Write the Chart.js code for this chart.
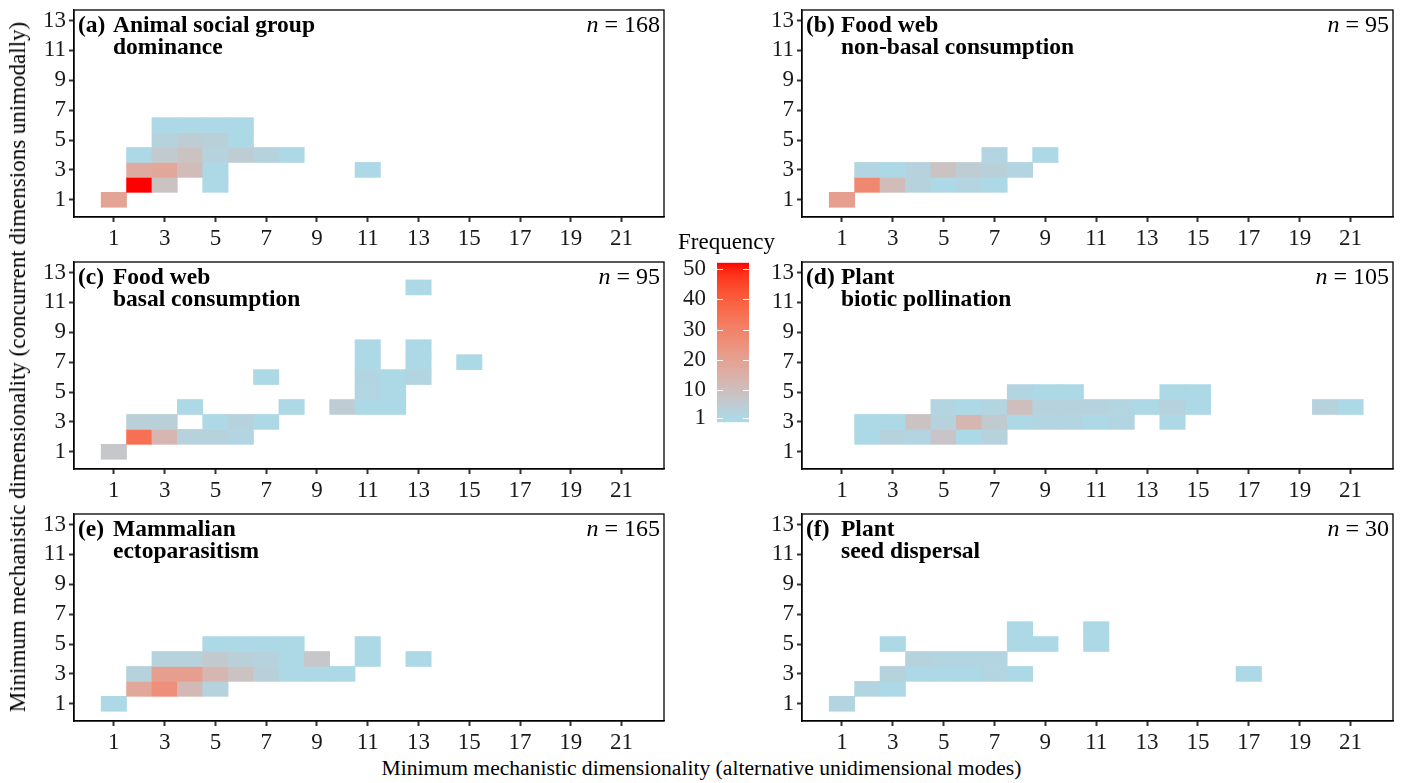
<!DOCTYPE html>
<html>
<head>
<meta charset="utf-8">
<title>Minimum mechanistic dimensionality</title>
<script src="https://cdn.jsdelivr.net/npm/chart.js@4.4.1/dist/chart.umd.min.js"></script>
<style>
  body { margin: 0; background: #fff; }
  #wrap { position: relative; width: 1403px; height: 783px; overflow: hidden; background: #fff;
          font-family: "Liberation Serif", "Times New Roman", serif; color: #000; }
  #wrap canvas { position: absolute; }
  .axis-title { position: absolute; font-size: 22px; line-height: 22px; white-space: nowrap; }
  #xtitle { left: 0; width: 1403px; text-align: center; top: 757px; font-size: 21.6px; }
  #ytitle { left: 18px; top: 367px; font-size: 23px; transform: translate(-50%, -50%) rotate(-90deg); }
  #legtitle { left: 678px; top: 231px; font-size: 23px; }
</style>
</head>
<body>
<div id="wrap">
  <canvas id="panel-a" width="680" height="250" style="left:0;top:0"></canvas>
  <canvas id="panel-b" width="680" height="250" style="left:728px;top:0"></canvas>
  <canvas id="panel-c" width="680" height="250" style="left:0;top:252px"></canvas>
  <canvas id="panel-d" width="680" height="250" style="left:728px;top:252px"></canvas>
  <canvas id="panel-e" width="680" height="250" style="left:0;top:504px"></canvas>
  <canvas id="panel-f" width="680" height="250" style="left:728px;top:504px"></canvas>
  <canvas id="legend" width="130" height="190" style="left:640px;top:250px"></canvas>
  <div class="axis-title" id="legtitle">Frequency</div>
  <div class="axis-title" id="xtitle">Minimum mechanistic dimensionality (alternative unidimensional modes)</div>
  <div class="axis-title" id="ytitle">Minimum mechanistic dimensionality (concurrent dimensions unimodally)</div>
</div>
<script>
// axis breaks
const xTicks = [1, 3, 5, 7, 9, 11, 13, 15, 17, 19, 21];
const yTicks = [1, 3, 5, 7, 9, 11, 13];
const legendTicks = [1, 10, 20, 30, 40, 50];

// panel headings
const panelLetters = ["(a)", "(b)", "(c)", "(d)", "(e)", "(f)"];
const panelGroups = ["Animal social group", "Food web", "Food web", "Plant", "Mammalian", "Plant"];
const panelSystems = ["dominance", "non-basal consumption", "basal consumption", "biotic pollination", "ectoparasitism", "seed dispersal"];
const panelN = [168, 95, 95, 105, 165, 30];

// cells: [alternative modes (x), concurrent dimensions (y), frequency]
const cellsA = [
  [1, 1, 19], [2, 2, 52], [3, 2, 9], [5, 2, 1],
  [2, 3, 17], [3, 3, 18], [4, 3, 11], [5, 3, 1], [11, 3, 1],
  [2, 4, 1], [3, 4, 6], [4, 4, 9], [5, 4, 3], [6, 4, 5], [7, 4, 3], [8, 4, 1],
  [3, 5, 3], [4, 5, 5], [5, 5, 4], [6, 5, 1],
  [3, 6, 1], [4, 6, 1], [5, 6, 1], [6, 6, 1]
];
const cellsB = [
  [1, 1, 21], [2, 2, 28], [3, 2, 11], [4, 2, 3], [5, 2, 1], [6, 2, 2], [7, 2, 1],
  [2, 3, 2], [3, 3, 1], [4, 3, 3], [5, 3, 9], [6, 3, 5], [7, 3, 4], [8, 3, 2],
  [7, 4, 2], [9, 4, 1]
];
const cellsC = [
  [1, 1, 7], [2, 2, 35], [3, 2, 13], [4, 2, 3], [5, 2, 3], [6, 2, 2],
  [2, 3, 4], [3, 3, 4], [5, 3, 1], [6, 3, 3], [7, 3, 1],
  [4, 4, 1], [8, 4, 1], [10, 4, 5], [11, 4, 1], [12, 4, 1],
  [11, 5, 2], [12, 5, 1],
  [7, 6, 1], [11, 6, 2], [12, 6, 1], [13, 6, 2],
  [11, 7, 1], [13, 7, 1], [15, 7, 1],
  [11, 8, 1], [13, 8, 1],
  [13, 12, 1]
];
const cellsD = [
  [2, 2, 1], [3, 2, 3], [4, 2, 2], [5, 2, 8], [6, 2, 1], [7, 2, 3],
  [2, 3, 1], [3, 3, 1], [4, 3, 9], [5, 3, 3], [6, 3, 13], [7, 3, 6], [8, 3, 1],
  [9, 3, 2], [10, 3, 2], [11, 3, 1], [12, 3, 2], [14, 3, 1],
  [5, 4, 2], [6, 4, 1], [7, 4, 2], [8, 4, 10], [9, 4, 3], [10, 4, 3], [11, 4, 3],
  [12, 4, 2], [13, 4, 1], [14, 4, 3], [15, 4, 1], [20, 4, 3], [21, 4, 1],
  [8, 5, 2], [9, 5, 1], [10, 5, 1], [14, 5, 1], [15, 5, 1]
];
const cellsE = [
  [1, 1, 1],
  [2, 2, 18], [3, 2, 26], [4, 2, 12], [5, 2, 3],
  [2, 3, 3], [3, 3, 21], [4, 3, 21], [5, 3, 13], [6, 3, 9], [7, 3, 4], [8, 3, 1], [9, 3, 1], [10, 3, 1],
  [3, 4, 3], [4, 4, 3], [5, 4, 6], [6, 4, 4], [7, 4, 3], [8, 4, 1], [9, 4, 7], [11, 4, 1], [13, 4, 1],
  [5, 5, 1], [6, 5, 1], [7, 5, 1], [8, 5, 1], [11, 5, 1]
];
const cellsF = [
  [1, 1, 2], [2, 2, 2], [3, 2, 1],
  [3, 3, 3], [4, 3, 1], [5, 3, 1], [6, 3, 1], [7, 3, 2], [8, 3, 1], [17, 3, 1],
  [4, 4, 3], [5, 4, 2], [6, 4, 2], [7, 4, 2],
  [3, 5, 1], [8, 5, 1], [9, 5, 1], [11, 5, 1],
  [8, 6, 1], [11, 6, 1]
];

const allCells = [cellsA, cellsB, cellsC, cellsD, cellsE, cellsF];
const countMin = 1;
const countMax = Math.max(...allCells.flat().map(c => c[2]));

const FONT = '"Liberation Serif", "Times New Roman", serif';
const X_MIN = -0.57, X_MAX = 22.67;
const Y_MIN = -0.15, Y_MAX = 13.7;

// fill gradient lightblue -> red, interpolated in CIELAB like ggplot
const LOW = [173, 216, 230];
const HIGH = [255, 0, 0];

function toLinear(c) {
  c /= 255;
  return c <= 0.04045 ? c / 12.92 : Math.pow((c + 0.055) / 1.055, 2.4);
}
function fromLinear(c) {
  const v = c <= 0.0031308 ? 12.92 * c : 1.055 * Math.pow(c, 1 / 2.4) - 0.055;
  return Math.round(Math.max(0, Math.min(1, v)) * 255);
}
function rgbToLab(rgb) {
  const [r, g, b] = rgb.map(toLinear);
  const X = (0.4124 * r + 0.3576 * g + 0.1805 * b) / 0.95047;
  const Y = (0.2126 * r + 0.7152 * g + 0.0722 * b);
  const Z = (0.0193 * r + 0.1192 * g + 0.9505 * b) / 1.08883;
  const f = t => (t > 0.008856 ? Math.cbrt(t) : 7.787 * t + 16 / 116);
  return [116 * f(Y) - 16, 500 * (f(X) - f(Y)), 200 * (f(Y) - f(Z))];
}
function labToRgb(lab) {
  const [L, a, bb] = lab;
  const fy = (L + 16) / 116, fx = fy + a / 500, fz = fy - bb / 200;
  const inv = t => (t * t * t > 0.008856 ? t * t * t : (t - 16 / 116) / 7.787);
  const X = inv(fx) * 0.95047, Y = inv(fy), Z = inv(fz) * 1.08883;
  const r = 3.2406 * X - 1.5372 * Y - 0.4986 * Z;
  const g = -0.9689 * X + 1.8758 * Y + 0.0415 * Z;
  const b = 0.0557 * X - 0.204 * Y + 1.057 * Z;
  return [fromLinear(r), fromLinear(g), fromLinear(b)];
}
const lowLab = rgbToLab(LOW), highLab = rgbToLab(HIGH);

function fillFor(v) {
  let t = (v - countMin) / (countMax - countMin);
  t = Math.max(0, Math.min(1, t));
  const lab = lowLab.map((l, i) => l + (highLab[i] - l) * t);
  const [r, g, b] = labToRgb(lab);
  return `rgb(${r},${g},${b})`;
}

// full box around each panel
const frame = {
  id: "frame",
  afterDatasetsDraw(chart) {
    const { ctx, chartArea: a } = chart;
    ctx.save();
    ctx.strokeStyle = "#000";
    ctx.lineWidth = 1.3;
    ctx.strokeRect(a.left, a.top, a.right - a.left, a.bottom - a.top);
    ctx.restore();
  }
};

// heading and n inside each panel
const panelText = {
  id: "panelText",
  afterDraw(chart, args, opts) {
    const { ctx, chartArea: a } = chart;
    ctx.save();
    ctx.fillStyle = "#000";
    ctx.textBaseline = "alphabetic";
    ctx.textAlign = "left";
    ctx.font = `bold 23.5px ${FONT}`;
    ctx.fillText(opts.letter, a.left + 4, a.top + 22);
    ctx.fillText(opts.group, a.left + 39, a.top + 22);
    ctx.fillText(opts.system, a.left + 39, a.top + 44);

    ctx.textAlign = "right";
    ctx.font = `24px ${FONT}`;
    const rest = " = " + opts.n;
    const w = ctx.measureText(rest).width;
    ctx.fillText(rest, a.right - 4, a.top + 22);
    ctx.font = `italic 24px ${FONT}`;
    ctx.fillText("n", a.right - 4 - w, a.top + 22);
    ctx.restore();
  }
};

function axisOpts(kind) {
  const isX = kind === "x";
  const breaks = isX ? xTicks : yTicks;
  return {
    type: "linear",
    min: isX ? X_MIN : Y_MIN,
    max: isX ? X_MAX : Y_MAX,
    offset: false,
    afterBuildTicks: (scale) => {
      scale.ticks = breaks.map((v) => ({ value: v }));
    },
    afterFit: (scale) => {
      // fixed axis size, no extra room for overhanging labels
      if (isX) {
        scale.height = 33;
        scale.paddingLeft = 0;
        scale.paddingRight = 0;
      } else {
        scale.width = 74;
        scale.paddingTop = 0;
        scale.paddingBottom = 0;
      }
    },
    grid: {
      display: true,
      offset: false,
      drawOnChartArea: false,
      drawTicks: true,
      tickLength: 5,
      tickWidth: 2,
      tickColor: "#333"
    },
    border: { display: true, color: "#000", width: 1.3 },
    ticks: {
      autoSkip: false,
      maxRotation: 0,
      padding: 3,
      color: "#1a1a1a",
      font: { family: FONT, size: 23 }
    }
  };
}

function makePanel(id, cells, i) {
  const rightPad = i % 2 === 0 ? 16 : 15;
  return new Chart(document.getElementById(id), {
    type: "bar",
    data: {
      datasets: [
        {
          data: cells.map((c) => ({ x: c[0], y: [c[1] - 0.5, c[1] + 0.5] })),
          backgroundColor: cells.map((c) => fillFor(c[2])),
          borderWidth: 0,
          barPercentage: 1,
          categoryPercentage: 1
        }
      ]
    },
    options: {
      responsive: false,
      animation: false,
      events: [],
      layout: { padding: { top: 10, right: rightPad, bottom: 0, left: 0 } },
      plugins: {
        legend: { display: false },
        tooltip: { enabled: false },
        panelText: {
          letter: panelLetters[i],
          group: panelGroups[i],
          system: panelSystems[i],
          n: panelN[i]
        }
      },
      scales: { x: axisOpts("x"), y: axisOpts("y") }
    },
    plugins: [frame, panelText]
  });
}

["panel-a", "panel-b", "panel-c", "panel-d", "panel-e", "panel-f"].forEach((id, i) =>
  makePanel(id, allCells[i], i)
);

// colour bar legend
const legendMarks = {
  id: "legendMarks",
  afterDatasetsDraw(chart) {
    const { ctx, chartArea: a, scales } = chart;
    ctx.save();
    ctx.strokeStyle = "#fff";
    ctx.lineWidth = 1;
    legendTicks.forEach((v) => {
      const y = Math.round(scales.y.getPixelForValue(v)) + 0.5;
      ctx.beginPath();
      ctx.moveTo(a.left, y);
      ctx.lineTo(a.left + 6, y);
      ctx.moveTo(a.right - 6, y);
      ctx.lineTo(a.right, y);
      ctx.stroke();
    });
    ctx.restore();
  }
};

new Chart(document.getElementById("legend"), {
  type: "bar",
  data: {
    labels: ["Frequency"],
    datasets: [
      {
        data: [[-0.5, countMax]],
        borderWidth: 0,
        barPercentage: 1,
        categoryPercentage: 1,
        backgroundColor: (c) => {
          const chart = c.chart;
          if (!chart.chartArea) return fillFor(countMin);
          const ys = chart.scales.y;
          const y0 = ys.getPixelForValue(countMin);
          const y1 = ys.getPixelForValue(countMax);
          const g = chart.ctx.createLinearGradient(0, y0, 0, y1);
          for (let k = 0; k <= 24; k++) {
            g.addColorStop(k / 24, fillFor(countMin + ((countMax - countMin) * k) / 24));
          }
          return g;
        }
      }
    ]
  },
  options: {
    responsive: false,
    animation: false,
    events: [],
    layout: { padding: { top: 12.7, right: 21, bottom: 0, left: 0 } },
    plugins: { legend: { display: false }, tooltip: { enabled: false } },
    scales: {
      x: {
        display: false,
        afterFit: (scale) => {
          scale.height = 17.7;
        }
      },
      y: {
        type: "linear",
        min: -0.5,
        max: countMax,
        afterBuildTicks: (scale) => {
          scale.ticks = legendTicks.map((v) => ({ value: v }));
        },
        afterFit: (scale) => {
          scale.width = 77;
          scale.paddingTop = 0;
          scale.paddingBottom = 0;
        },
        grid: { display: false },
        border: { display: false },
        ticks: {
          padding: 3,
          color: "#1a1a1a",
          font: { family: FONT, size: 23 }
        }
      }
    }
  },
  plugins: [legendMarks]
});
</script>
</body>
</html>
